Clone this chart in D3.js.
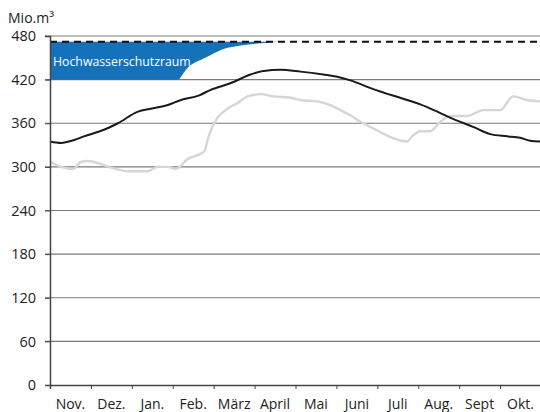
<!DOCTYPE html>
<html><head><meta charset="utf-8">
<script src="https://cdn.jsdelivr.net/npm/d3@7"></script>
<style>body{margin:0;background:#fff}svg{display:block}text{font-family:"Open Sans","Noto Sans",sans-serif}</style>
</head><body><div id="c"></div>
<script>
const months = ["Nov.","Dez.","Jan.","Feb.","März","April","Mai","Juni","Juli","Aug.","Sept","Okt."];
const yTicks = [0,60,120,180,240,300,360,420,480];
const fullLevel = 472;
// mean storage (black): positions in months since 1 Nov, values Mio.m3
const meanPos = [0,0.27,0.59,0.83,1.32,1.66,2.15,2.46,2.88,3.2,3.63,3.93,4.41,4.9,5.22,5.63,6.12,6.68,7.02,7.34,7.9,8.73,9.05,9.54,9.85,10.34,10.76,11.17,11.49,11.73,12];
const meanVal = [335,333,337,342,351,360,376,380,385,392,398,406,415,427,432,433.5,431,427,424,419,407,392,386,374,366,355,345,342,340,336,335];
// current year (grey)
const curPos = [0,0.27,0.56,0.76,0.93,1.49,1.9,2.39,2.63,2.88,3.07,3.37,3.68,3.78,3.85,3.93,4.1,4.34,4.59,4.83,5.15,5.46,5.88,6.12,6.54,6.85,7.17,7.34,7.59,7.9,8.32,8.73,8.85,9.05,9.29,9.54,9.78,10.2,10.59,11,11.32,11.66,12];
const curVal = [307,300,297,307,308,299,294,294,300,300,297,311,318,322,337,350,368,380,388,397,400,397,395,392,390,385,376,371,362,353,341,335,342,349,349,362,370,370,378,378,397,392,390];
// flood protection space lower boundary
const floodPos = [0,3.12,3.3,3.44,3.68,3.93,4.24,4.66,5.15,5.6];
const floodVal = [420,420,432,440,447,454,462,467,470,472];

const W=540,H=412, L=50, R=541, T=36, B=385;
const svg=d3.select("#c").append("svg").attr("width",W).attr("height",H);
const x=d3.scaleLinear().domain([0,12]).range([L,R]);
const y=d3.scaleLinear().domain([0,480]).range([B,T]);

// grid
svg.append("g").selectAll("line").data(yTicks.filter(d=>d>0)).join("line")
 .attr("x1",L-5).attr("x2",W).attr("y1",d=>y(d)).attr("y2",d=>y(d))
 .attr("stroke","#7a7a7a").attr("stroke-width",1.2);

// flood area
const fl = floodPos.map((p,i)=>({p,v:floodVal[i]}));
svg.append("path").datum(fl)
 .attr("d",d3.area().x(d=>x(d.p)).y0(d=>y(d.v)).y1(y(fullLevel)).curve(d3.curveMonotoneX))
 .attr("fill","#1572ba");
svg.append("text").attr("x",53).attr("y",66).attr("fill","#fff").attr("font-size",12.3).text("Hochwasserschutzraum");

// full level dashed
svg.append("line").attr("x1",L).attr("x2",W).attr("y1",y(fullLevel)).attr("y2",y(fullLevel))
 .attr("stroke","#111").attr("stroke-width",2).attr("stroke-dasharray","7,5");

const line=d3.line().x(d=>x(d.p)).y(d=>y(d.v)).curve(d3.curveMonotoneX);
svg.append("path").datum(curPos.map((p,i)=>({p,v:curVal[i]}))).attr("d",line)
 .attr("fill","none").attr("stroke","#d6d6d6").attr("stroke-width",2.4);
svg.append("path").datum(meanPos.map((p,i)=>({p,v:meanVal[i]}))).attr("d",line)
 .attr("fill","none").attr("stroke","#1a1a1a").attr("stroke-width",2);

// y axis
const ya=svg.append("g").attr("transform",`translate(${L},0)`)
 .call(d3.axisLeft(y).tickValues(yTicks).tickSize(5).tickPadding(9));
ya.select(".domain").attr("stroke","#444").attr("stroke-width",1.5);
ya.selectAll(".tick line").attr("stroke","#444");
ya.selectAll("text").attr("font-size",14.5).attr("fill","#222").attr("font-family",'"Open Sans","Noto Sans",sans-serif');

// x axis
const xa=svg.append("g").attr("transform",`translate(0,${B})`)
 .call(d3.axisBottom(x).tickValues(d3.range(0,13)).tickSize(4).tickFormat(""));
xa.select(".domain").attr("stroke","#444").attr("stroke-width",1.5);
xa.selectAll(".tick line").attr("stroke","#444");
svg.append("g").selectAll("text").data(months).join("text")
 .attr("x",(d,i)=>x(i+0.5)).attr("y",409).attr("text-anchor","middle")
 .attr("font-size",14).attr("fill","#222").text(d=>d);

svg.append("text").attr("x",8).attr("y",23).attr("font-size",14).attr("fill","#222").text("Mio.m³");
</script></body></html>
